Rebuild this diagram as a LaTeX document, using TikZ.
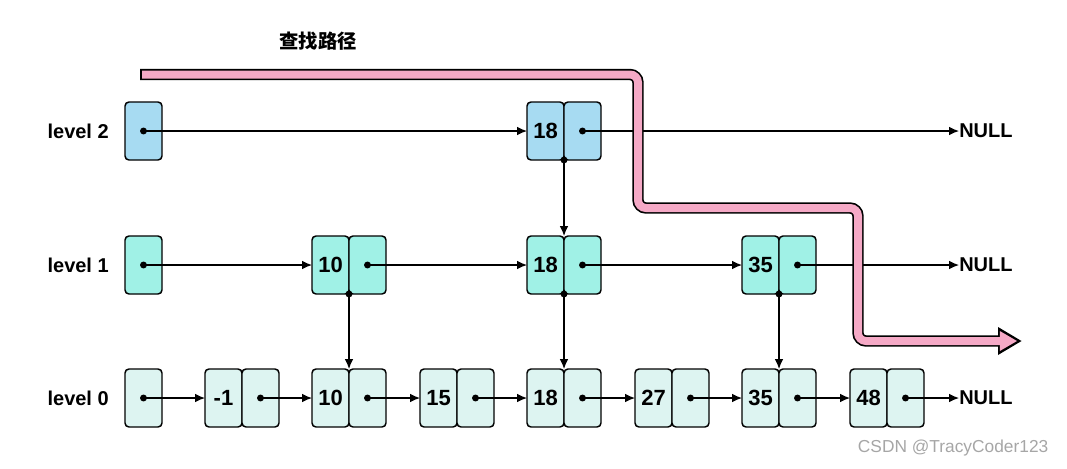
\documentclass[tikz,border=0pt]{standalone}
\usepackage{fontspec}
\setmainfont{Liberation Sans}
\newfontfamily\cjk{Noto Sans CJK SC}
\usetikzlibrary{positioning,arrows.meta}
\definecolor{lvtwo}{HTML}{A7DBF2}
\definecolor{lvone}{HTML}{A0F1E6}
\definecolor{lvzero}{HTML}{DDF4F1}
\definecolor{pathpink}{HTML}{F5A9C6}
\tikzset{
    cell/.style={draw, rounded corners=3pt, line width=1.1pt, minimum width=27.75pt,
        minimum height=43.5pt, inner sep=0pt, outer sep=0pt,
        font=\bfseries\fontsize{16.5}{19}\selectfont},
    link/.style={-{Latex[length=7.5pt,width=6.5pt]}, line width=0.9pt},
    lbl/.style={font=\bfseries\fontsize{15}{18}\selectfont, inner sep=0pt},
}
% key cell and pointer cell of one entry, split at x = #2
\newcommand{\entry}[5]{
    \node[cell, fill=#4, anchor=east] (#1k) at (#2,#3) {#5};
    \node[cell, fill=#4, right=0pt of #1k] (#1p) {};
    \fill (#1p.center) circle (2.6pt);
}

\begin{document}
\begin{tikzpicture}[x=0.75pt, y=-0.75pt]
    \useasboundingbox (0,0) rectangle (1067,468);

    % level names and head cells
    \foreach \lv/\yy/\col in {2/131/lvtwo, 1/265/lvone, 0/398/lvzero}{
        \node[lbl, anchor=east] (name\lv) at (109,\yy) {level \lv};
        \node[cell, fill=\col] (h\lv) at (143.5,\yy) {};
        \fill (h\lv.center) circle (2.6pt);
        \node[lbl, anchor=west] (null\lv) at (959,\yy) {NULL};
    }

    % level 2
    \entry{b18}{564}{131}{lvtwo}{18}

    % level 1
    \foreach \nm/\xx/\val in {c10/349/10, c18/564/18, c35/779/35}{
        \entry{\nm}{\xx}{265}{lvone}{\val}
    }

    % level 0
    \foreach \nm/\xx/\val in {am1/242/-1, a10/349/10, a15/457/15, a18/564/18,
                              a27/672/27, a35/779/35, a48/887/48}{
        \entry{\nm}{\xx}{398}{lvzero}{\val}
    }

    % horizontal links
    \draw[link] (h2.center) -- (b18k);
    \draw[link] (b18p.center) -- (null2);
    \draw[link] (h1.center) -- (c10k);
    \draw[link] (c10p.center) -- (c18k);
    \draw[link] (c18p.center) -- (c35k);
    \draw[link] (c35p.center) -- (null1);
    \draw[link] (h0.center) -- (am1k);
    \foreach \from/\to in {am1/a10, a10/a15, a15/a18, a18/a27, a27/a35, a35/a48}{
        \draw[link] (\from p.center) -- (\to k);
    }
    \draw[link] (a48p.center) -- (null0);

    % down links
    \foreach \from/\to in {b18/c18, c10/a10, c18/a18, c35/a35}{
        \fill (\from k.south east) circle (2.6pt);
        \draw[link] (\from k.south east) -- (\to k.north east);
    }

    % search path
    \coordinate (pstart) at (142,74.5);
    \coordinate (pend) at (1000,341);
    \draw[line width=8.5pt, rounded corners=6pt, shorten <=-1.4pt]
        (pstart) -- (638,74.5) -- (638,208) -- (858,208) -- (858,341) -- (pend);
    \fill (998,327) -- (1021.5,341) -- (998,355) -- cycle;
    \draw[line width=6pt, pathpink, rounded corners=6pt]
        (pstart) -- (638,74.5) -- (638,208) -- (858,208) -- (858,341) -- (pend);
    \fill[pathpink] (999.8,331) -- (1017,341) -- (999.8,351) -- cycle;
    \node[font=\cjk\bfseries\fontsize{14.5}{17}\selectfont] (title) at (318,41) {查找路径};

    \node[font=\fontsize{13}{15}\selectfont, text=gray!70, anchor=east] (mark) at (1053,448) {CSDN @TracyCoder123};

\end{tikzpicture}
\end{document}
